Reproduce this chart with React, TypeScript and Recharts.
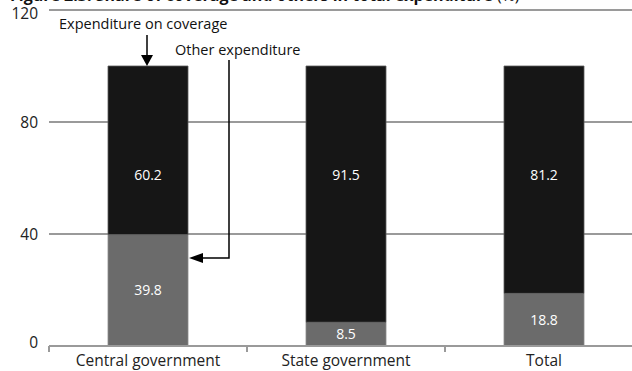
import React from "react";
import { BarChart, Bar, XAxis, YAxis, CartesianGrid, LabelList } from "recharts";

const categories = ["Central government", "State government", "Total"];
const otherExpenditure = [39.8, 8.5, 18.8];
const coverageExpenditure = [60.2, 91.5, 81.2];
const yTicks = [0, 40, 80, 120];

const data = categories.map((name, i) => ({
  name,
  other: otherExpenditure[i],
  coverage: coverageExpenditure[i],
}));

const FONT = "'Open Sans', sans-serif";
const AXIS_GRAY = "#9a9a9a";

function XTick(props: any) {
  const { x, y, payload, width, visibleTicksCount } = props;
  const half = width / (2 * (visibleTicksCount || 3));
  const left = x - half;
  return (
    <g>
      <line x1={left} y1={y - 8} x2={left} y2={y - 2} stroke={AXIS_GRAY} strokeWidth={2} />
      <text x={x} y={y} dy={12} textAnchor="middle" fill="#222" fontSize={15.5} fontFamily={FONT}>
        {payload.value}
      </text>
    </g>
  );
}

function YTick(props: any) {
  const { x, y, payload } = props;
  const v = payload.value;
  const dy = v === 120 ? 9 : v === 0 ? 2 : 6;
  return (
    <text x={x} y={y} dy={dy} textAnchor="end" fill="#222" fontSize={15.5} fontFamily={FONT}>
      {v}
    </text>
  );
}

export default function App() {
  return (
    <div
      style={{
        position: "absolute",
        left: 0,
        top: 0,
        width: 632,
        height: 371,
        overflow: "hidden",
        background: "#fff",
        fontFamily: FONT,
      }}
    >
      <BarChart
        width={660}
        height={371}
        data={data}
        margin={{ top: 10, right: 17, left: 0, bottom: 0 }}
        barSize={80}
      >
        <CartesianGrid horizontal vertical={false} stroke={AXIS_GRAY} strokeWidth={2} />
        <XAxis
          dataKey="name"
          axisLine={{ stroke: AXIS_GRAY, strokeWidth: 2 }}
          tickLine={false}
          tickSize={6}
          tickMargin={2}
          height={25}
          tick={<XTick />}
          interval={0}
        />
        <YAxis
          width={49}
          domain={[0, 120]}
          ticks={yTicks}
          axisLine={false}
          tickLine={false}
          tickMargin={5}
          tick={<YTick />}
        />
        <Bar dataKey="other" stackId="a" fill="#6b6b6b" stroke="#8a8a8a" strokeWidth={0.8} isAnimationActive={false}>
          <LabelList dataKey="other" position="center" fill="#fff" fontSize={14} fontFamily={FONT} />
        </Bar>
        <Bar dataKey="coverage" stackId="a" fill="#161616" stroke="#5a5a5a" strokeWidth={0.8} isAnimationActive={false}>
          <LabelList dataKey="coverage" position="insideTop" offset={104} fill="#fff" fontSize={14} fontFamily={FONT} />
        </Bar>
      </BarChart>
      <svg
        width={632}
        height={371}
        style={{ position: "absolute", left: 0, top: 0, pointerEvents: "none" }}
      >
        <text x={10} y={0.5} fontFamily={FONT} fontSize={16} fill="#111">
          <tspan fontWeight="bold">Figure 2.3: Share of coverage and others in total expenditure</tspan>
          <tspan> (%)</tspan>
        </text>
        <text x={59} y={29} fontFamily={FONT} fontSize={14.5} fill="#111">
          Expenditure on coverage
        </text>
        <line x1={147} y1={35} x2={147} y2={57} stroke="#000" strokeWidth={1.5} />
        <polygon points="141,55 153,55 147,66" fill="#000" />
        <text x={175} y={55} fontFamily={FONT} fontSize={14.5} fill="#111">
          Other expenditure
        </text>
        <polyline points="229,60 229,258 200,258" fill="none" stroke="#000" strokeWidth={1.5} />
        <polygon points="203,253 203,263 189,258" fill="#000" />
      </svg>
    </div>
  );
}
